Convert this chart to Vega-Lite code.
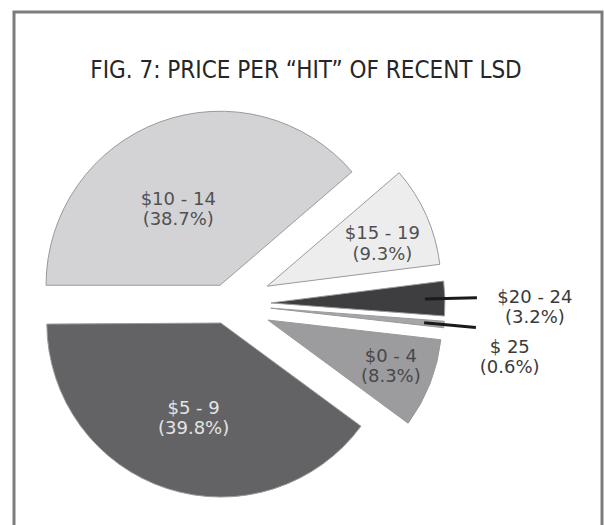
{
  "$schema": "https://vega.github.io/schema/vega-lite/v6.json",
  "width": 588,
  "height": 520,
  "autosize": {"type": "none"},
  "padding": {"left": 14, "top": 12, "right": 2, "bottom": 0},
  "background": "white",
  "view": {"stroke": "#7c7c7e", "strokeWidth": 3},
  "title": {
    "text": "FIG. 7: PRICE PER “HIT” OF RECENT LSD",
    "orient": "top",
    "anchor": "middle",
    "frame": "group",
    "offset": -90,
    "baseline": "alphabetic",
    "dx": -2,
    "font": "DejaVu Sans Condensed, DejaVu Sans",
    "fontSize": 24,
    "fontWeight": "normal",
    "color": "#262626"
  },
  "data": {
    "values": [
      {"price": "$10 - 14", "pct": 38.7},
      {"price": "$15 - 19", "pct": 9.3},
      {"price": "$20 - 24", "pct": 3.2},
      {"price": "$ 25", "pct": 0.6},
      {"price": "$0 - 4", "pct": 8.3},
      {"price": "$5 - 9", "pct": 39.8}
    ]
  },
  "transform": [
    {"window": [{"op": "sum", "field": "pct", "as": "cumEnd"}], "frame": [null, 0]},
    {"calculate": "datum.cumEnd - datum.pct", "as": "cumStart"},
    {"calculate": "datum.cumEnd - datum.pct / 2", "as": "cumMid"},
    {"calculate": "1.5 * PI + datum.cumMid / 100 * 2 * PI", "as": "midAngle"},
    {"calculate": "datum.pct > 20 ? 20 : 44", "as": "explode"},
    {"calculate": "datum.explode * sin(datum.midAngle)", "as": "cx"},
    {"calculate": "-datum.explode * cos(datum.midAngle)", "as": "cy"},
    {"calculate": "datum.price + '\\n(' + format(datum.pct, '.1f') + '%)'", "as": "label"}
  ],
  "encoding": {
    "x": {"field": "cx", "type": "quantitative", "scale": {"domain": [-213, 375], "nice": false, "zero": false}, "axis": null},
    "y": {"field": "cy", "type": "quantitative", "scale": {"domain": [-292, 228], "nice": false, "zero": false, "reverse": true}, "axis": null}
  },
  "layer": [
    {
      "mark": {"type": "arc", "outerRadius": 174, "stroke": "#9a9a9c", "strokeWidth": 1},
      "encoding": {
        "theta": {"field": "cumStart", "type": "quantitative", "stack": null, "scale": {"domain": [0, 100], "range": [4.71238898, 10.99557429], "nice": false}},
        "theta2": {"field": "cumEnd"},
        "color": {
          "field": "price", "type": "nominal", "legend": null,
          "scale": {
            "domain": ["$10 - 14", "$15 - 19", "$20 - 24", "$ 25", "$0 - 4", "$5 - 9"],
            "range": ["#d3d3d5", "#ededee", "#3e3e40", "#a6a6a8", "#9c9c9e", "#636366"]
          }
        }
      }
    },
    {
      "transform": [{"filter": "datum.pct < 5"}],
      "mark": {"type": "arc", "innerRadius": 154, "outerRadius": 206, "filled": false, "stroke": "#1a1a1a", "strokeWidth": 3},
      "encoding": {
        "theta": {"field": "cumMid", "type": "quantitative", "stack": null, "scale": {"domain": [0, 100], "range": [4.71238898, 10.99557429], "nice": false}},
        "theta2": {"field": "cumMid"}
      }
    },
    {
      "transform": [{"filter": "datum.price === '$10 - 14'"}],
      "mark": {"type": "text", "radius": 80, "dx": -14, "dy": -10, "align": "center", "baseline": "middle", "lineBreak": "\n", "lineHeight": 20, "font": "DejaVu Sans", "fontSize": 18, "fill": "#505053"},
      "encoding": {
        "theta": {"field": "cumMid", "type": "quantitative", "stack": null, "scale": {"domain": [0, 100], "range": [4.71238898, 10.99557429], "nice": false}},
        "text": {"field": "label"}
      }
    },
    {
      "transform": [{"filter": "datum.price === '$5 - 9'"}],
      "mark": {"type": "text", "radius": 101, "dx": 4, "dy": -10, "align": "center", "baseline": "middle", "lineBreak": "\n", "lineHeight": 20, "font": "DejaVu Sans", "fontSize": 18, "fill": "#e4e4e4"},
      "encoding": {
        "theta": {"field": "cumMid", "type": "quantitative", "stack": null, "scale": {"domain": [0, 100], "range": [4.71238898, 10.99557429], "nice": false}},
        "text": {"field": "label"}
      }
    },
    {
      "transform": [{"filter": "datum.price === '$15 - 19'"}],
      "mark": {"type": "text", "radius": 126, "dy": -1, "align": "center", "baseline": "middle", "lineBreak": "\n", "lineHeight": 21, "font": "DejaVu Sans", "fontSize": 18, "fill": "#505053"},
      "encoding": {
        "theta": {"field": "cumMid", "type": "quantitative", "stack": null, "scale": {"domain": [0, 100], "range": [4.71238898, 10.99557429], "nice": false}},
        "text": {"field": "label"}
      }
    },
    {
      "transform": [{"filter": "datum.price === '$0 - 4'"}],
      "mark": {"type": "text", "radius": 132, "dy": -11, "align": "center", "baseline": "middle", "lineBreak": "\n", "lineHeight": 20, "font": "DejaVu Sans", "fontSize": 18, "fill": "#48484a"},
      "encoding": {
        "theta": {"field": "cumMid", "type": "quantitative", "stack": null, "scale": {"domain": [0, 100], "range": [4.71238898, 10.99557429], "nice": false}},
        "text": {"field": "label"}
      }
    },
    {
      "transform": [{"filter": "datum.price === '$20 - 24'"}],
      "mark": {"type": "text", "radius": 262, "dx": 2, "dy": 2, "align": "center", "baseline": "middle", "lineBreak": "\n", "lineHeight": 20, "font": "DejaVu Sans", "fontSize": 18, "fill": "#3a3a3a"},
      "encoding": {
        "theta": {"field": "cumMid", "type": "quantitative", "stack": null, "scale": {"domain": [0, 100], "range": [4.71238898, 10.99557429], "nice": false}},
        "text": {"field": "label"}
      }
    },
    {
      "transform": [{"filter": "datum.price === '$ 25'"}],
      "mark": {"type": "text", "radius": 240, "dy": 17, "align": "center", "baseline": "middle", "lineBreak": "\n", "lineHeight": 20, "font": "DejaVu Sans", "fontSize": 18, "fill": "#3a3a3a"},
      "encoding": {
        "theta": {"field": "cumMid", "type": "quantitative", "stack": null, "scale": {"domain": [0, 100], "range": [4.71238898, 10.99557429], "nice": false}},
        "text": {"field": "label"}
      }
    }
  ]
}
